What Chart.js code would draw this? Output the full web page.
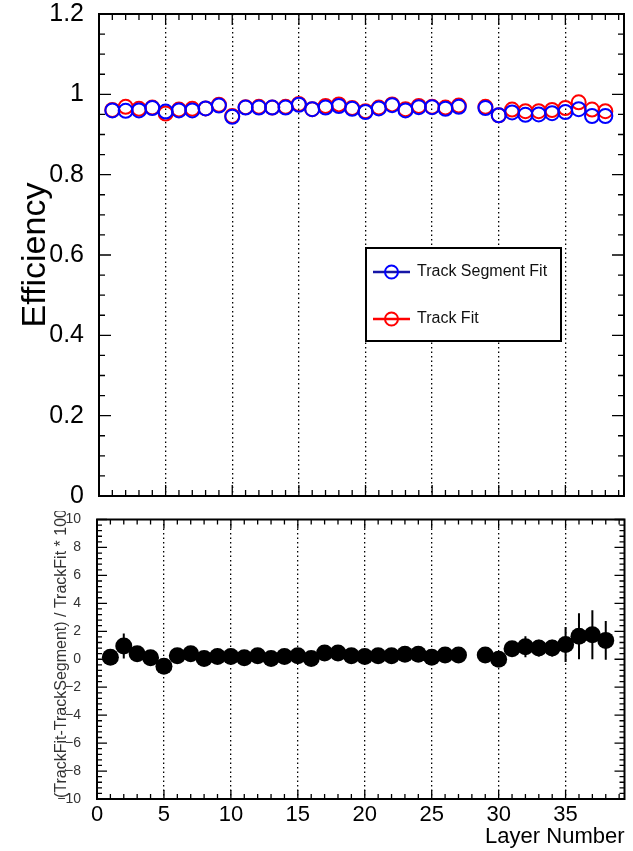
<!DOCTYPE html>
<html>
<head>
<meta charset="utf-8">
<script src="https://cdn.jsdelivr.net/npm/chart.js@4.4.1/dist/chart.umd.min.js"></script>
<style>
  html, body { margin: 0; padding: 0; background: #fff; }
  #wrap { position: relative; width: 633px; height: 851px; overflow: hidden; }
  #topBox { position: absolute; left: 0; top: 0; }
  #botBox { position: absolute; left: 0; top: 511px; }
  canvas { display: block; }
</style>
</head>
<body>
<div id="wrap">
  <div id="topBox"><canvas id="effChart" width="633" height="511"></canvas></div>
  <div id="botBox"><canvas id="ratioChart" width="633" height="340"></canvas></div>
</div>
<script>
// data

const layers = [1, 2, 3, 4, 5, 6, 7, 8, 9, 10,
  11, 12, 13, 14, 15, 16, 17, 18, 19, 20,
  21, 22, 23, 24, 25, 26, 27, 28, 29, 30,
  31, 32, 33, 34, 35, 36, 37, 38];

const seriesNames = ['Track Segment Fit', 'Track Fit'];

// efficiency, Track Segment Fit (blue)
const segEff = [0.960, 0.959, 0.960, 0.966, 0.957, 0.960, 0.960, 0.965, 0.972, 0.944,
  0.967, 0.967, 0.967, 0.967, 0.974, 0.963, 0.967, 0.971, 0.964, 0.956,
  0.965, 0.973, 0.960, 0.968, 0.968, 0.964, 0.969, null, 0.966, 0.948,
  0.955, 0.949, 0.950, 0.953, 0.956, 0.963, 0.946, 0.946];

// efficiency, Track Fit (red)
const trackEff = [0.961, 0.969, 0.964, 0.967, 0.952, 0.962, 0.964, 0.965, 0.974, 0.946,
  0.968, 0.969, 0.967, 0.969, 0.976, 0.963, 0.971, 0.975, 0.966, 0.958,
  0.967, 0.975, 0.963, 0.971, 0.969, 0.967, 0.972, null, 0.969, 0.948,
  0.962, 0.958, 0.958, 0.961, 0.966, 0.980, 0.962, 0.958];

// (TrackFit - TrackSegment) / TrackFit * 100
const ratio = [0.15, 0.95, 0.4, 0.1, -0.5, 0.25, 0.4, 0.05, 0.2, 0.2,
  0.1, 0.25, 0.05, 0.2, 0.25, 0.05, 0.45, 0.45, 0.25, 0.2,
  0.25, 0.25, 0.35, 0.35, 0.15, 0.3, 0.3, null, 0.3, 0,
  0.75, 0.9, 0.8, 0.8, 1.05, 1.65, 1.75, 1.35];

const ratioErr = [0.3, 0.9, 0.3, 0.3, 0.35, 0.3, 0.3, 0.3, 0.3, 0.3,
  0.3, 0.3, 0.3, 0.3, 0.3, 0.3, 0.3, 0.3, 0.3, 0.3,
  0.3, 0.3, 0.3, 0.3, 0.3, 0.3, 0.3, null, 0.35, 0.35,
  0.5, 0.75, 0.6, 0.6, 1.25, 1.65, 1.75, 1.38];

const xTicks = [0, 5, 10, 15, 20, 25, 30, 35];
const effTicks = [0, 0.2, 0.4, 0.6, 0.8, 1, 1.2];
const ratioTicks = [-10, -8, -6, -4, -2, 0, 2, 4, 6, 8, 10];

// styles

const FONT = "'Liberation Sans', Arial, Helvetica, sans-serif";
const BLUE = '#0000ff';
const RED = '#ff0000';
const legendLine = ['#1616a6', '#ff0000'];
const legendMark = [BLUE, RED];

Chart.defaults.font.family = FONT;
Chart.defaults.color = '#000';

function points(values) {
  return layers.map((x, i) => ({ x: x, y: values[i] })).filter(p => p.y !== null);
}

// ROOT-like frame with inward ticks on all four sides
const rootFrame = {
  id: 'rootFrame',
  afterDraw(chart, args, o) {
    const { ctx, chartArea: a } = chart;
    const xs = chart.scales.x, ys = chart.scales.y;
    ctx.save();
    ctx.strokeStyle = '#000';
    ctx.lineWidth = 1.3;
    ctx.beginPath();
    for (let i = 0; ; i++) {
      const v = xs.min + i * o.xStep;
      if (v > xs.max + 1e-9) break;
      const px = xs.getPixelForValue(v);
      const len = i % o.xEvery === 0 ? o.xMajor : o.xMinor;
      ctx.moveTo(px, a.bottom); ctx.lineTo(px, a.bottom - len);
      ctx.moveTo(px, a.top); ctx.lineTo(px, a.top + len);
    }
    for (let i = 0; ; i++) {
      const v = ys.min + i * o.yStep;
      if (v > ys.max + 1e-9) break;
      const py = ys.getPixelForValue(v);
      const len = i % o.yEvery === 0 ? o.yMajor : o.yMinor;
      ctx.moveTo(a.left, py); ctx.lineTo(a.left + len, py);
      ctx.moveTo(a.right, py); ctx.lineTo(a.right - len, py);
    }
    ctx.stroke();
    ctx.lineWidth = 2;
    ctx.strokeRect(a.left, a.top, a.right - a.left, a.bottom - a.top);
    ctx.restore();
  }
};

// legend box of the top pad
const legendBox = {
  id: 'legendBox',
  afterDraw(chart) {
    const ctx = chart.ctx;
    ctx.save();
    ctx.fillStyle = '#fff';
    ctx.fillRect(366, 248, 195, 93);
    ctx.strokeStyle = '#000';
    ctx.lineWidth = 2;
    ctx.strokeRect(366, 248, 195, 93);
    seriesNames.forEach((name, i) => {
      const cy = 272 + i * 47;
      ctx.strokeStyle = legendLine[i];
      ctx.lineWidth = 2.5;
      ctx.beginPath(); ctx.moveTo(373, cy); ctx.lineTo(410, cy); ctx.stroke();
      ctx.strokeStyle = legendMark[i];
      ctx.lineWidth = 2;
      ctx.beginPath(); ctx.arc(391.5, cy, 6.5, 0, Math.PI * 2); ctx.stroke();
      ctx.fillStyle = '#111';
      ctx.font = '16px ' + FONT;
      ctx.textAlign = 'left';
      ctx.textBaseline = 'middle';
      ctx.fillText(name, 417, cy);
    });
    ctx.restore();
  }
};

// vertical error bars for the ratio pad
const errorBars = {
  id: 'errorBars',
  beforeDatasetsDraw(chart) {
    const ctx = chart.ctx;
    const xs = chart.scales.x, ys = chart.scales.y;
    ctx.save();
    ctx.strokeStyle = '#000';
    ctx.lineWidth = 2;
    ctx.beginPath();
    layers.forEach((x, i) => {
      if (ratio[i] === null) return;
      const px = xs.getPixelForValue(x);
      ctx.moveTo(px, ys.getPixelForValue(ratio[i] - ratioErr[i]));
      ctx.lineTo(px, ys.getPixelForValue(ratio[i] + ratioErr[i]));
    });
    ctx.stroke();
    ctx.restore();
  }
};

// long y title of the ratio pad, left aligned at the bottom and cut by the pad edge
const ratioTitle = {
  id: 'ratioTitle',
  afterDraw(chart) {
    const { ctx, chartArea: a } = chart;
    ctx.save();
    ctx.translate(62, a.bottom - 1);
    ctx.rotate(-Math.PI / 2);
    ctx.fillStyle = '#333';
    ctx.font = '16px ' + FONT;
    ctx.textAlign = 'left';
    ctx.textBaseline = 'middle';
    ctx.fillText('(TrackFit-TrackSegment) / TrackFit * 100', 0, 0);
    ctx.restore();
  }
};

const dottedGrid = { drawTicks: false, color: '#000', lineWidth: 1.3 };

// top pad: efficiencies

new Chart(document.getElementById('effChart'), {
  type: 'scatter',
  data: {
    datasets: [
      {
        label: seriesNames[0],
        data: points(segEff),
        borderColor: BLUE,
        backgroundColor: 'rgba(0,0,0,0)',
        pointRadius: 7,
        pointBorderWidth: 2,
        order: 0
      },
      {
        label: seriesNames[1],
        data: points(trackEff),
        borderColor: RED,
        backgroundColor: 'rgba(0,0,0,0)',
        pointRadius: 7,
        pointBorderWidth: 2,
        order: 1
      }
    ]
  },
  options: {
    responsive: false,
    animation: false,
    events: [],
    layout: { padding: { top: 14, right: 8, left: 0, bottom: 0 } },
    plugins: {
      legend: { display: false },
      tooltip: { enabled: false },
      rootFrame: { xStep: 1, xEvery: 5, xMajor: 11, xMinor: 6, yStep: 0.05, yEvery: 4, yMajor: 12, yMinor: 6 }
    },
    scales: {
      x: {
        type: 'linear',
        min: 0,
        max: 39.4,
        afterBuildTicks: s => { s.ticks = xTicks.map(v => ({ value: v })); },
        ticks: { display: false },
        grid: dottedGrid,
        border: { display: false, dash: [1.5, 3] },
        afterFit: s => { s.height = 15; s.paddingLeft = 0; s.paddingRight = 0; }
      },
      y: {
        min: 0,
        max: 1.2,
        afterBuildTicks: s => { s.ticks = effTicks.map(v => ({ value: v })); },
        ticks: {
          font: { size: 25, lineHeight: 1 },
          padding: 7,
          callback: v => String(+v.toFixed(1))
        },
        grid: { display: false },
        border: { display: false },
        title: { display: true, text: 'Efficiency', font: { size: 34 }, padding: { top: 15 } },
        afterFit: s => { s.width = 99; s.paddingTop = 0; s.paddingBottom = 0; }
      }
    }
  },
  plugins: [rootFrame, legendBox]
});

// bottom pad: relative difference

new Chart(document.getElementById('ratioChart'), {
  type: 'scatter',
  data: {
    datasets: [{
      label: 'ratio',
      data: points(ratio),
      backgroundColor: '#000',
      borderColor: '#000',
      pointRadius: 8.5,
      pointBorderWidth: 0
    }]
  },
  options: {
    responsive: false,
    animation: false,
    events: [],
    layout: { padding: { top: 3, right: 8, left: 0, bottom: 0 } },
    plugins: {
      legend: { display: false },
      tooltip: { enabled: false },
      rootFrame: { xStep: 1, xEvery: 5, xMajor: 9, xMinor: 5, yStep: 0.4, yEvery: 5, yMajor: 10, yMinor: 5 }
    },
    scales: {
      x: {
        type: 'linear',
        min: 0,
        max: 39.4,
        afterBuildTicks: s => { s.ticks = xTicks.map(v => ({ value: v })); },
        ticks: { font: { size: 22, lineHeight: 1 }, padding: 5, maxRotation: 0, autoSkip: false },
        grid: dottedGrid,
        border: { display: false, dash: [1.5, 3] },
        title: { display: true, text: 'Layer Number', align: 'end', font: { size: 22 }, padding: { top: 0, bottom: 1 } },
        afterFit: s => { s.height = 52; s.paddingLeft = 0; s.paddingRight = 0; }
      },
      y: {
        min: -10,
        max: 10,
        afterBuildTicks: s => { s.ticks = ratioTicks.map(v => ({ value: v })); },
        ticks: {
          font: { size: 14, lineHeight: 1 },
          color: '#333',
          padding: 8,
          callback: v => (v < 0 ? '\u2212' + (-v) : String(v))
        },
        grid: { display: false },
        border: { display: false },
        afterFit: s => { s.width = 97; s.paddingTop = 0; s.paddingBottom = 0; }
      }
    }
  },
  plugins: [rootFrame, errorBars, ratioTitle]
});
</script>
</body>
</html>
